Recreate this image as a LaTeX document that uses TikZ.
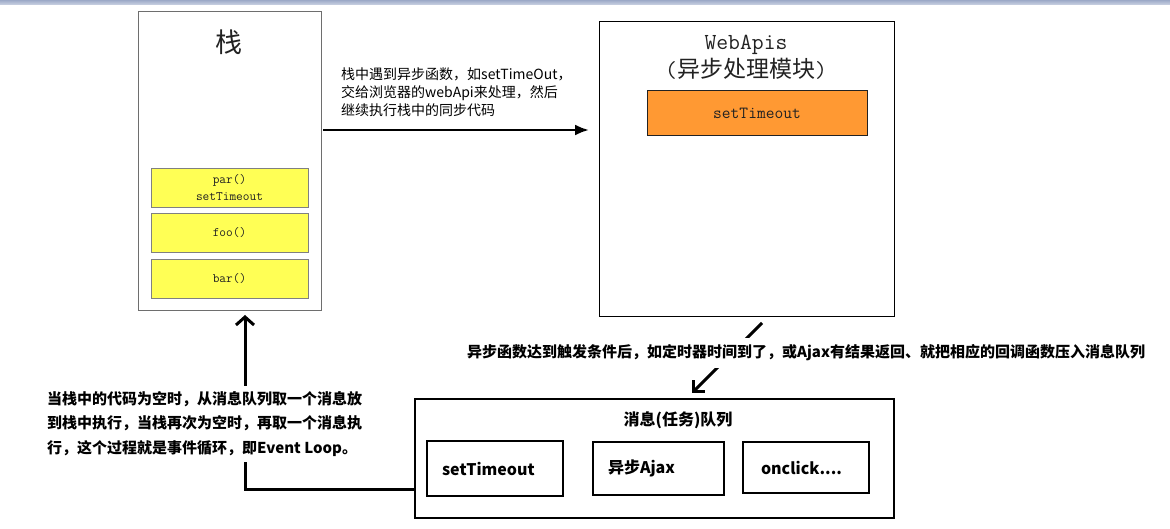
\documentclass[tikz,border=0pt]{standalone}
\usepackage{fontspec}
\newfontfamily\cjk{Noto Sans CJK SC}
\usetikzlibrary{arrows.meta,calc}
\definecolor{bandtop}{HTML}{9CA9C7}
\definecolor{bandbot}{HTML}{CDD4E4}
\definecolor{stackgray}{HTML}{6E6E6E}
\definecolor{yel}{HTML}{FFFF55}
\definecolor{org}{HTML}{FF9933}
\definecolor{ink}{HTML}{222222}
\begin{document}
\begin{tikzpicture}[x=1pt,y=-1pt,
  frame/.style={draw, inner sep=0pt, outer sep=0pt, anchor=north west},
  stackbox/.style={frame, draw=stackgray, line width=1},
  callbox/.style={frame, draw=gray, fill=yel, line width=0.8, minimum width=157, minimum height=39,
    font=\ttfamily\fontsize{13}{17}\selectfont, text=ink, align=center},
  apibox/.style={frame, draw=black, line width=1},
  taskbox/.style={frame, draw=black, line width=1.1, align=left, inner xsep=15pt,
    font=\cjk\bfseries\fontsize{16}{18}\selectfont},
  thick arrow/.style={line width=2.5, -{Latex[length=14,width=11]}},
  flow arrow/.style={line width=3, -{Straight Barb[length=8,width=18]}},
  note/.style={font=\cjk\bfseries\fontsize{15}{24.5}\selectfont, align=left, fill=white}
]
\fill[white] (0,0) rectangle (1170,529);
\useasboundingbox (0,0) rectangle (1170,529);
\shade[top color=bandtop, bottom color=bandbot] (0,0) rectangle (1170,5);

% stack
\node[stackbox, minimum width=183, minimum height=299] (stack) at (138,12) {};
\node[font=\cjk\fontsize{27}{27}\selectfont, text=ink] (stacktitle) at (229,42) {栈};
\node[callbox] (par) at (151,168) {par()\\setTimeout};
\node[callbox] (foo) at (151,213) {foo()};
\node[callbox] (bar) at (151,259) {bar()};

% web apis
\node[apibox, minimum width=295, minimum height=295] (webapi) at (599,22) {};
\node[font=\ttfamily\fontsize{23}{28}\selectfont, align=center, text=ink] (apititle) at (746,57)
  {WebApis\\({\cjk\fontsize{23}{28}\selectfont 异步处理模块})};
\node[frame, draw=ink, fill=org, line width=1, minimum width=220, minimum height=45,
  font=\ttfamily\fontsize{17}{17}\selectfont, text=ink] (timer) at (647,91) {setTimeout};

% queue
\node[frame, draw=black, line width=1.2, minimum width=479, minimum height=119] (queue) at (415,399) {};
\node[font=\cjk\bfseries\fontsize{16}{18}\selectfont] (qtitle) at (678,420) {消息(任务)队列};
\node[taskbox, minimum width=136, minimum height=55, text width=106] (q1) at (427,441) {setTimeout};
\node[taskbox, minimum width=131, minimum height=53, text width=101, inner xsep=14pt] (q2) at (593,442) {\raisebox{-1pt}{异步Ajax}};
\node[taskbox, minimum width=126, minimum height=51, text width=90, inner xsep=18pt] (q3) at (743,442) {onclick....};

% connectors
\draw[thick arrow] ($(stack.north east)+(2,118)$) -- ($(webapi.north west)+(-10,108)$);
\draw[flow arrow] ($(queue.west)+(0,30.5)$) -| ($(stack.south)+(15.5,4)$);
\draw[flow arrow, -{Straight Barb[length=8,width=16]}] ($(webapi.south)+(15.5,6)$) -- ($(queue.north)+(37.5,-6)$);

% labels
\node[anchor=west, inner sep=0pt, align=left, font=\cjk\fontsize{14}{18}\selectfont] (pushlabel) at (341,92)
  {栈中遇到异步函数，如setTimeOut，\\交给浏览器的webApi来处理，然后\\继续执行栈中的同步代码};
\node[note, anchor=west, inner xsep=4pt, inner ysep=5pt] (looplabel) at (43,424)
  {当栈中的代码为空时，从消息队列取一个消息放\\到栈中执行，当栈再次为空时，再取一个消息执\\行，这个过程就是事件循环，即Event Loop。};
\node[note, anchor=west, inner xsep=0pt, minimum height=30] (cblabel) at (467,353)
  {异步函数达到触发条件后，如定时器时间到了，或Ajax有结果返回、就把相应的回调函数压入消息队列};
\end{tikzpicture}
\end{document}
